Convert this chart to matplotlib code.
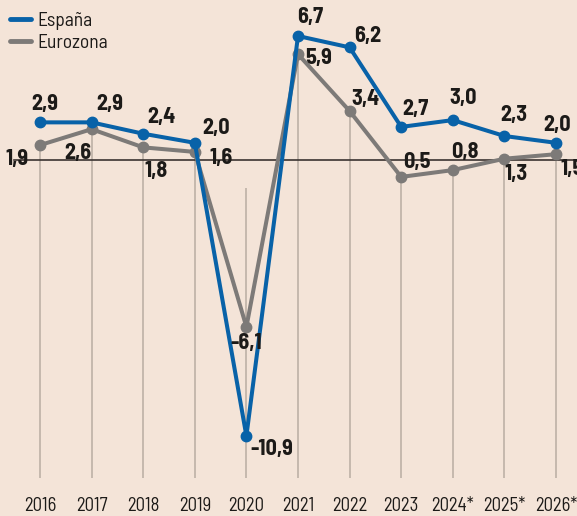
import matplotlib
matplotlib.use("Agg")
import matplotlib.pyplot as plt

# ---- data ----
years = [2016, 2017, 2018, 2019, 2020, 2021, 2022, 2023, 2024, 2025, 2026]
year_labels = ["2016", "2017", "2018", "2019", "2020", "2021", "2022", "2023",
               "2024*", "2025*", "2026*"]
espana = [2.9, 2.9, 2.4, 2.0, -10.9, 6.7, 6.2, 2.7, 3.0, 2.3, 2.0]
eurozona = [1.9, 2.6, 1.8, 1.6, -6.1, 5.9, 3.4, 0.5, 0.8, 1.3, 1.5]
series_names = ["España", "Eurozona"]

# ---- style ----
BG = "#f4e4d8"
BLUE = "#0862a8"
GRAY = "#7d7a78"
TXT = "#1c1a18"
FONT = ["Barlow Semi Condensed", "DejaVu Sans"]
plt.rcParams["font.family"] = FONT

W, H = 577, 516
DPI = 100
fig = plt.figure(figsize=(W / DPI, H / DPI), dpi=DPI, facecolor=BG)
ax_bottom_px = 478
ax = fig.add_axes([0, (H - ax_bottom_px) / H, 1, ax_bottom_px / H])
ax.set_facecolor(BG)

pxu_x = (556 - 40) / 10.0
pxu_y = 400 / 17.6
ax.set_xlim(2016 - 40 / pxu_x, 2016 + (W - 40) / pxu_x)
ax.set_ylim(6.7 - (ax_bottom_px - 36) / pxu_y, 6.7 + 36 / pxu_y)
ymin = ax.get_ylim()[0]

for s in ax.spines.values():
    s.set_visible(False)
ax.set_yticks([])
ax.set_xticks(years)
ax.set_xticklabels(year_labels, fontsize=13.5, color=TXT)
ax.tick_params(axis="x", length=0, pad=13.5)

# vertical guide lines
for x, a, b in zip(years, espana, eurozona):
    top = max(min(a, b), 0)
    ax.plot([x, x], [ymin, top], color="#b9aca2", lw=1.1, zorder=1,
            solid_capstyle="butt")

# baseline
ax.axhline(1.24, xmin=14 / W, xmax=1, color="#3a3330", lw=1.2, zorder=1)

ax.plot(years, eurozona, color=GRAY, lw=2.9, marker="o", ms=7.5, zorder=3,
        label=series_names[1], solid_joinstyle="round")
ax.plot(years, espana, color=BLUE, lw=2.9, marker="o", ms=7.5, zorder=4,
        label=series_names[0], solid_joinstyle="round")

# label offsets in pixels (dx, dy) relative to point; dy positive = up
es_off = [(5, 18), (18, 18), (18, 17), (21, 15), (25, -13), (12, 19),
          (18, 11), (14, 18), (10, 22), (9, 21), (1, 18)]
ez_off = [(-23, -14), (-14, -24), (13, -24), (26, -6), (0, -16), (21, -4),
          (16, 12), (16, 15), (12, 18), (12, -15), (16, -15)]

def fmt(v):
    return f"{v:.1f}".replace(".", ",")

k = 72.0 / DPI
LBL = 16
for x, v, (dx, dy) in zip(years, espana, es_off):
    ax.annotate(fmt(v), (x, v), xytext=(dx * k, dy * k), textcoords="offset points",
                ha="center", va="center", fontsize=LBL, fontweight="bold",
                color=TXT, zorder=5, annotation_clip=False)
for x, v, (dx, dy) in zip(years, eurozona, ez_off):
    ax.annotate(fmt(v), (x, v), xytext=(dx * k, dy * k), textcoords="offset points",
                ha="center", va="center", fontsize=LBL, fontweight="bold",
                color=TXT, zorder=5, annotation_clip=False)

handles, labels = ax.get_legend_handles_labels()
order = [1, 0]
leg = ax.legend([handles[i] for i in order], [labels[i] for i in order],
                loc="upper left", bbox_to_anchor=(-0.006, 1.003), frameon=False,
                fontsize=14, handlelength=1.05, handletextpad=0.35,
                labelspacing=0.2, borderaxespad=0.3)
for h in leg.legend_handles:
    h.set_marker("")
    h.set_linewidth(3.5)
    h.set_solid_capstyle("round")
for t in leg.get_texts():
    t.set_color(TXT)

fig.savefig("out.png", dpi=DPI, facecolor=BG)
